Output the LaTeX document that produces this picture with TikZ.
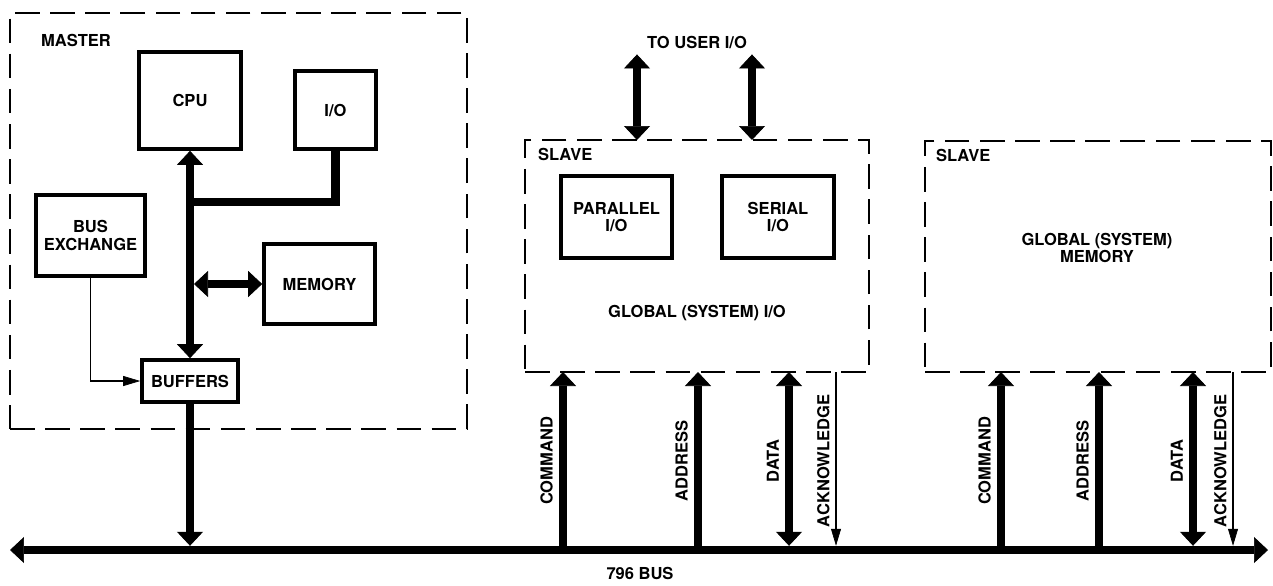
\documentclass[tikz,border=0pt]{standalone}
\usepackage{fontspec}
\setmainfont{TeX Gyre Heros}
\usetikzlibrary{arrows.meta}

\begin{document}
\begin{tikzpicture}[x=0.02cm, y=-0.02cm,
    every node/.style={font=\bfseries\fontsize{9.4}{9.8}\selectfont, align=center},
    blk/.style={draw, line width=2.1pt, inner sep=0pt},
    area/.style={draw, line width=0.8pt, dash pattern=on 14pt off 6pt, inner sep=0pt},
    bus/.style={line width=4.8pt, >={Triangle[width=0.52cm, length=0.28cm, line width=0.4pt]}},
    wire/.style={line width=0.8pt, >={Triangle[width=0.2cm, length=0.34cm, line width=0.4pt]}}]
	\useasboundingbox (0,0) rectangle (1273,585);
	% master board
	\node[area, minimum width=9.14cm, minimum height=8.32cm] (master) at (238.5,221) {};
	\node[anchor=west] (mastertxt) at (35,40) {MASTER};
	\node[blk, minimum width=2.04cm, minimum height=1.94cm] (cpu) at (190,100.5) {CPU};
	\node[blk, minimum width=1.62cm, minimum height=1.56cm] (io) at (335.5,110) {I/O};
	\node[blk, minimum width=2.18cm, minimum height=1.62cm] (busx) at (90.5,235.5) {BUS\\EXCHANGE};
	\node[blk, minimum width=2.22cm, minimum height=1.6cm] (mem) at (319.5,284) {MEMORY};
	\node[blk, minimum width=1.92cm, minimum height=0.84cm] (buf) at (190,381) {BUFFERS};
	\coordinate (tap) at (190,202);
	\coordinate (memtap) at (194,284);
	\draw[bus, <->] (cpu.south) -- (buf.north);
	\draw[bus] (tap) -| (io.south);
	\draw[bus, <->] (memtap) -- (mem.west);
	\draw[wire, ->] (busx.south) |- (buf.west);
	% slave boards
	\node[area, minimum width=6.88cm, minimum height=4.64cm] (sio) at (697,256) {};
	\node[area, minimum width=6.92cm, minimum height=4.62cm] (smem) at (1098,256.5) {};
	\node[anchor=west] (siotxt) at (532,154) {SLAVE};
	\node[anchor=west] (smemtxt) at (930,155) {SLAVE};
	\node[blk, minimum width=2.22cm, minimum height=1.64cm] (pio) at (616.5,217) {PARALLEL\\I/O};
	\node[blk, minimum width=2.24cm, minimum height=1.64cm] (ser) at (778,217) {SERIAL\\I/O};
	\node (giotxt) at (697,313) {GLOBAL (SYSTEM) I/O};
	\node (gmemtxt) at (1097,248) {GLOBAL (SYSTEM)\\MEMORY};
	\node (user) at (697,42) {TO USER I/O};
	\coordinate (uA) at (637,140);
	\coordinate (uB) at (752,140);
	\draw[bus, <->] (uA) -- (uA |- user.south);
	\draw[bus, <->] (uB) -- (uB |- user.south);
	% system bus
	\coordinate (busL) at (10,550);
	\coordinate (busR) at (1268,550);
	\draw[bus, <->] (busL) -- (busR);
	\node (buslbl) at (640,573) {796 BUS};
	\draw[bus, ->, shorten >=2.4pt] (buf.south) -- (buf.south |- busL);
	\foreach \n/\x in {cmdA/563, adrA/698, datA/789, ackA/836, cmdB/1001, adrB/1099, datB/1193, ackB/1233}
		\coordinate (\n) at (\x,372);
	\foreach \n/\t in {cmdA/COMMAND, adrA/ADDRESS, cmdB/COMMAND, adrB/ADDRESS}
		\draw[bus, ->] (\n |- busL) -- node[rotate=90, anchor=south] {\t} (\n);
	\foreach \n in {datA, datB}
		\draw[bus, <->, shorten <=2.4pt] (\n |- busL) -- node[rotate=90, anchor=south] {DATA} (\n);
	\foreach \n in {ackA, ackB}
		\draw[wire, ->, shorten >=2.4pt] (\n) -- node[rotate=90, anchor=south] {ACKNOWLEDGE} (\n |- busL);
\end{tikzpicture}
\end{document}
